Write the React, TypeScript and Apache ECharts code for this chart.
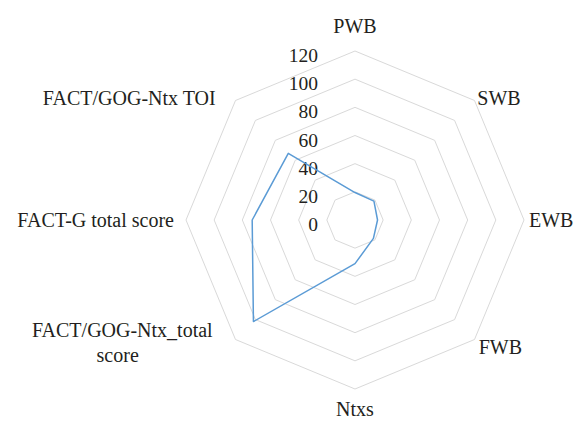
import React, { useEffect, useRef } from "react";
import * as echarts from "echarts";

// Indicators in clockwise order starting at the top (as in the reference)
const indicatorNames = [
  "PWB",
  "SWB",
  "EWB",
  "FWB",
  "Ntxs",
  "FACT/GOG-Ntx_total score",
  "FACT-G total score",
  "FACT/GOG-Ntx TOI",
];
const seriesValues = [19.5, 19, 16, 18.5, 31, 102, 73, 67];
const axisMax = 120;
const tickInterval = 20;

const FONT = "'Liberation Serif', 'Times New Roman', serif";
const TEXT = "#231f20";

export default function App() {
  const ref = useRef<HTMLDivElement>(null);
  useEffect(() => {
    if (!ref.current) return;
    const chart = echarts.init(ref.current, undefined, { renderer: "svg" });
    // ECharts places indicators counter-clockwise; reorder (keep first on top)
    const order = [0, ...Array.from({ length: indicatorNames.length - 1 }, (_, i) => indicatorNames.length - 1 - i)];
    const gaps: Record<string, number> = {
      PWB: 15,
      SWB: 4,
      EWB: 5,
      FWB: 6,
      Ntxs: 12,
      "FACT/GOG-Ntx_total score": 4,
      "FACT-G total score": 12,
      "FACT/GOG-Ntx TOI": 4,
    };
    const styles: Record<string, any> = {
      FWB: { padding: [6, 0, 0, 0] },
      Ntxs: { lineHeight: 16 },
      "FACT/GOG-Ntx_total score": { padding: [0, 20, 0, 0] },
      "FACT/GOG-Ntx TOI": { padding: [0, 17, 0, 0] },
    };
    const indicator = order.map((i) => {
      const name = indicatorNames[i];
      const ind: any = {
        name,
        min: 0,
        max: axisMax,
        nameGap: gaps[name],
      };
      if (styles[name]) ind.nameTextStyle = { ...styles[name] };
      if (i === 0) ind.axisLabel = { show: true };
      return ind;
    });
    const data = order.map((i) => seriesValues[i]);
    chart.setOption({
      animation: false,
      backgroundColor: "#ffffff",
      textStyle: { fontFamily: FONT },
      radar: {
        center: [355, 220],
        radius: 169,
        startAngle: 90,
        shape: "polygon",
        splitNumber: axisMax / tickInterval,
        indicator,
        axisName: {
          color: TEXT,
          fontFamily: FONT,
          fontSize: 20,
          formatter: (n: string) =>
            n === "FACT/GOG-Ntx_total score"
              ? "{a|FACT/GOG-Ntx_total}\n{b|score}"
              : n,
          rich: {
            a: { fontFamily: FONT, fontSize: 20, color: TEXT, lineHeight: 25 },
            b: {
              fontFamily: FONT,
              fontSize: 20,
              color: TEXT,
              lineHeight: 25,
              width: 190,
              align: "center",
            },
          },
        },
        axisLine: { show: false },
        axisTick: { show: false },
        axisLabel: {
          show: false,
          color: TEXT,
          fontFamily: FONT,
          fontSize: 19.5,
          margin: 37,
          verticalAlign: "top",
          lineHeight: 9,
        },
        splitLine: { lineStyle: { color: "#d9d9d9", width: 1 } },
        splitArea: { show: false },
      },
      series: [
        {
          type: "radar",
          symbol: "none",
          lineStyle: { color: "#5b9bd5", width: 1.5 },
          data: [{ value: data }],
        },
      ],
    });
    return () => chart.dispose();
  }, []);
  return (
    <div
      ref={ref}
      style={{ position: "fixed", left: 0, top: 0, width: 577, height: 422 }}
    />
  );
}
